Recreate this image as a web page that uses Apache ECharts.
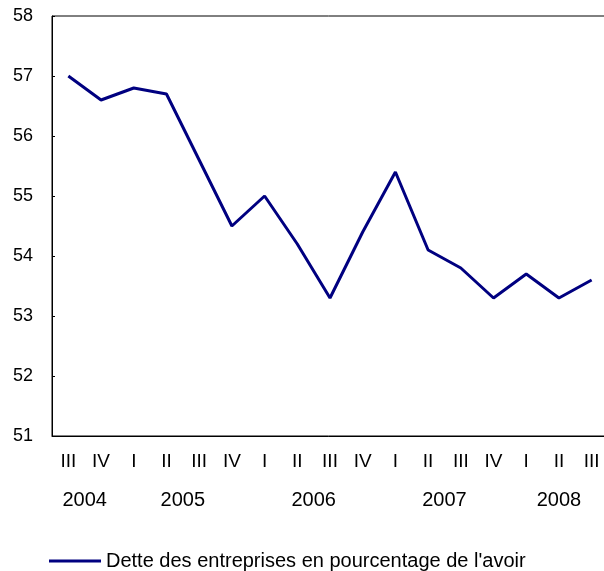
<!DOCTYPE html>
<html>
<head>
<meta charset="utf-8">
<script src="https://cdn.jsdelivr.net/npm/echarts@6/dist/echarts.min.js"></script>
<style>
  html, body { margin: 0; padding: 0; background: #fff; }
  #chart { width: 604px; height: 571px; }
</style>
</head>
<body>
<div id="chart"></div>
<script>
// quarters along the axis, III 2004 .. III 2008
var quarters = ['III', 'IV', 'I', 'II', 'III', 'IV', 'I', 'II', 'III', 'IV', 'I', 'II', 'III', 'IV', 'I', 'II', 'III'];
// debt as a percentage of equity
var debtRatio = [57.0, 56.6, 56.8, 56.7, 55.6, 54.5, 55.0, 54.2, 53.3, 54.4, 55.4, 54.1, 53.8, 53.3, 53.7, 53.3, 53.6];
// year labels and where they sit, in category units
var years = ['2004', '2005', '2006', '2007', '2008'];
var yearPos = [0.5, 3.5, 7.5, 11.5, 15];
var seriesName = "Dette des entreprises en pourcentage de l'avoir";

var font = 'Liberation Sans, Arial, sans-serif';
var chart = echarts.init(document.getElementById('chart'));

var option = {
    animation: false,
    grid: {
        // plot runs a little past the right edge of the picture
        left: 52, width: 556, top: 16, bottom: 135,
        outerBoundsMode: 'none',
        show: true, borderColor: '#000', borderWidth: 1
    },
    xAxis: [
        {
            type: 'category',
            data: quarters,
            boundaryGap: true,
            axisLine: { lineStyle: { color: '#000', width: 1 } },
            axisTick: { inside: true, length: 3, lineStyle: { color: '#000' } },
            axisLabel: { color: '#000', fontFamily: font, fontSize: 19, margin: 16, interval: 0 },
            splitLine: { show: false }
        },
        {
            // year row, placed on a value scale matching the categories
            type: 'value',
            position: 'bottom',
            min: -0.5, max: 16.5, interval: 0.5,
            axisLine: { show: false },
            axisTick: { show: false },
            splitLine: { show: false },
            axisLabel: {
                color: '#000', fontFamily: font, fontSize: 20, margin: 54,
                showMinLabel: true, showMaxLabel: true,
                formatter: function (v) {
                    for (var i = 0; i < yearPos.length; i++) {
                        if (Math.abs(v - yearPos[i]) < 1e-6) return years[i];
                    }
                    return '';
                }
            }
        }
    ],
    yAxis: {
        type: 'value',
        min: 51, max: 58, interval: 1,
        axisLine: { show: true, onZero: false, lineStyle: { color: '#000', width: 1 } },
        axisTick: { show: true, inside: true, length: 3, lineStyle: { color: '#000' } },
        axisLabel: { color: '#000', fontFamily: font, fontSize: 18, margin: 19 },
        splitLine: { show: false }
    },
    legend: {
        left: 44, top: 546,
        icon: 'rect', itemWidth: 52, itemHeight: 3,
        textStyle: { color: '#000', fontFamily: font, fontSize: 20 },
        data: [seriesName]
    },
    series: [{
        name: seriesName,
        type: 'line',
        xAxisIndex: 0,
        data: debtRatio,
        symbol: 'none',
        lineStyle: { color: '#000080', width: 3 },
        itemStyle: { color: '#000080' }
    }]
};
chart.setOption(option);
</script>
</body>
</html>
